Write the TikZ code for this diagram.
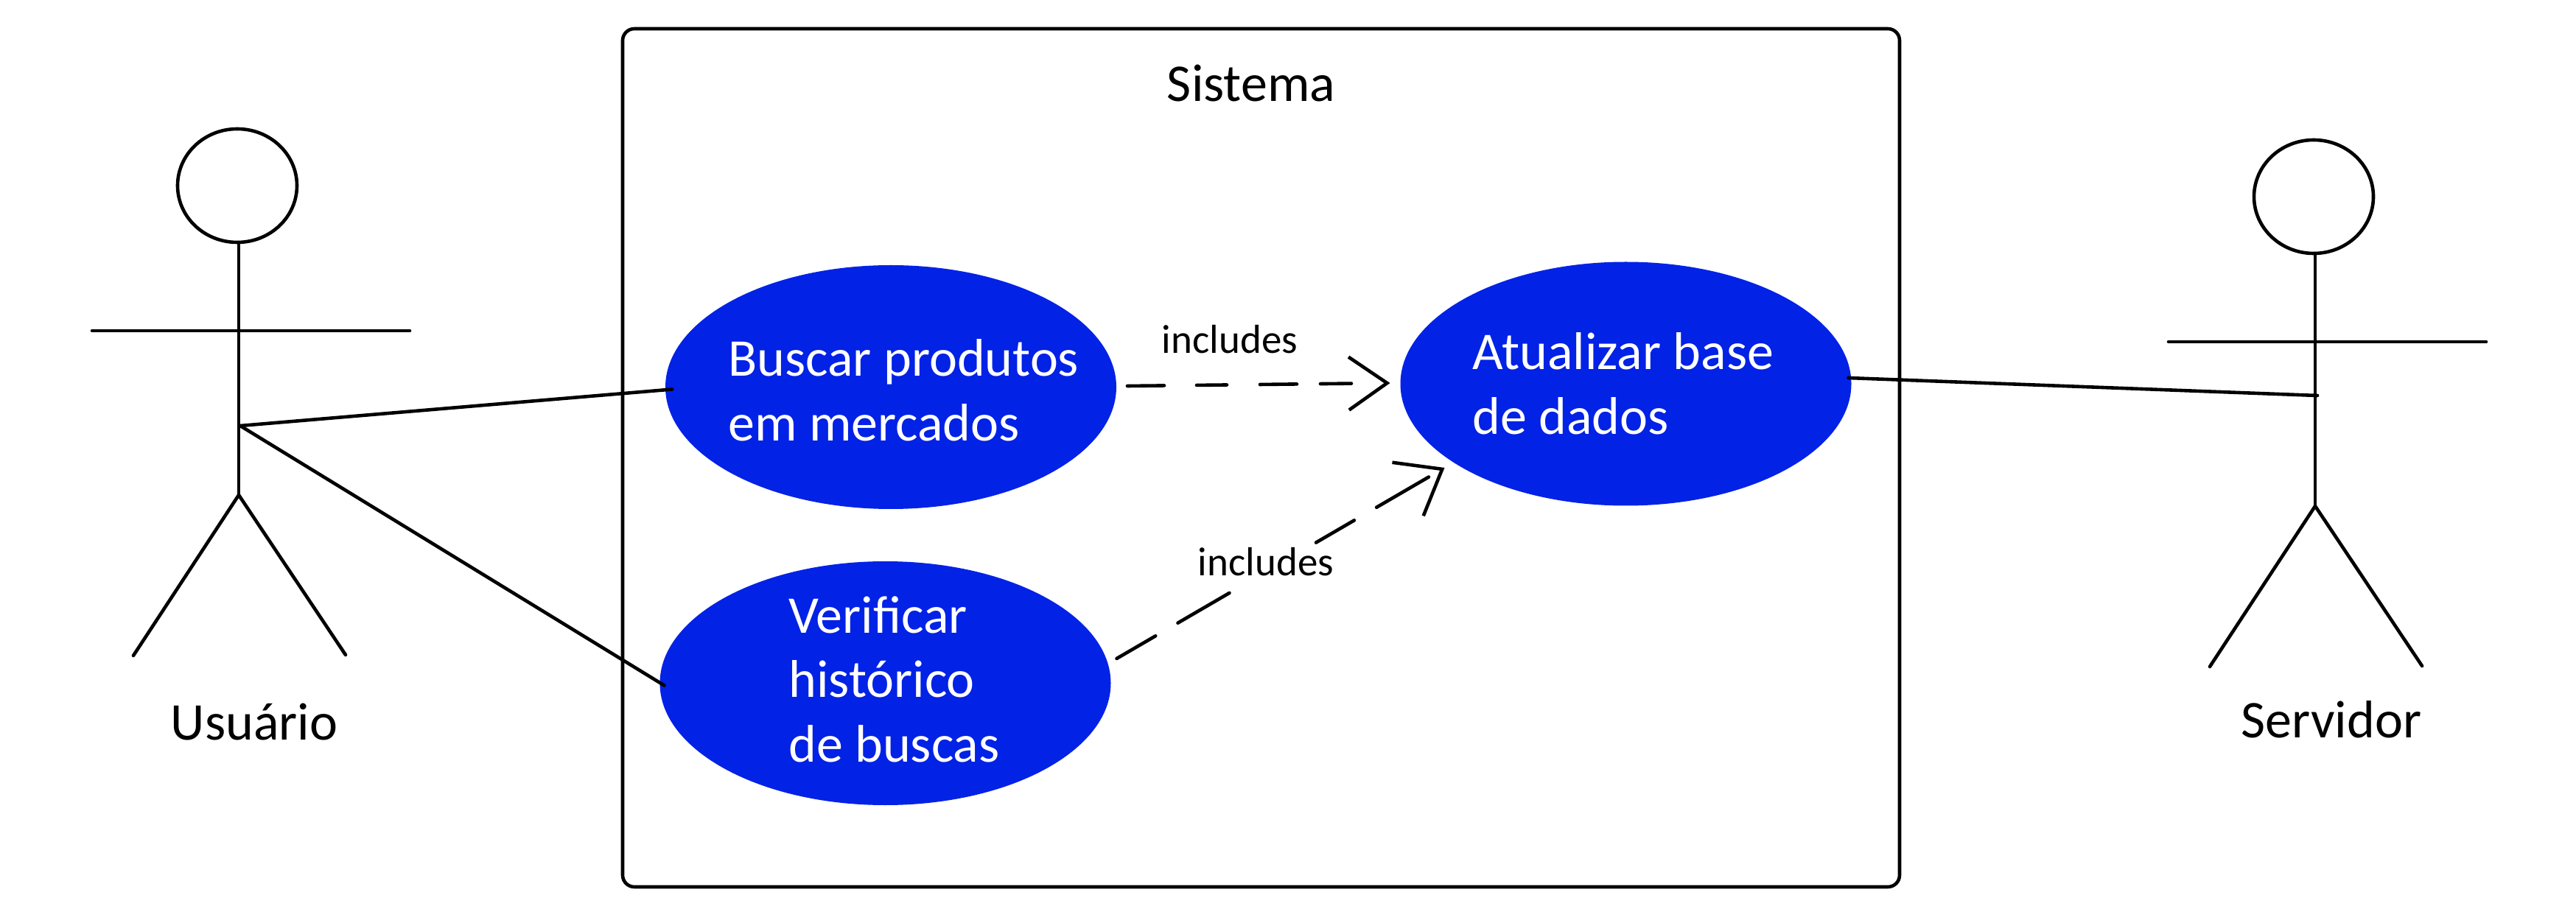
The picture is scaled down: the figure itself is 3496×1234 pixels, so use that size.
\documentclass[tikz,border=0pt]{standalone}
\usepackage{fontspec}
\setmainfont{Carlito}
\usetikzlibrary{arrows.meta}
\usetikzlibrary{shapes.geometric}
\definecolor{usecaseblue}{HTML}{0222E6}
\tikzset{
  stick line/.style={line width=2.3pt,line cap=round},
  use case/.style={ellipse,fill=usecaseblue,minimum width=306pt,minimum height=165.5pt,inner sep=0pt,outer sep=0pt},
  use text/.style={anchor=west,align=left,text=white,inner sep=0pt,font=\fontsize{36}{43.75}\selectfont},
  big label/.style={anchor=base,inner sep=0pt,font=\fontsize{36}{43.75}\selectfont},
  includes label/.style={anchor=base,inner sep=0pt,font=\fontsize{27.5}{33}\selectfont},
  actor head/.style={ellipse,draw,line width=2.3pt,minimum width=81pt,minimum height=77pt,inner sep=0pt,outer sep=0pt},
}
\begin{document}
\begin{tikzpicture}[x=0.5pt,y=-0.5pt]
\useasboundingbox (0,0) rectangle (3496,1234);
\node [draw,line width=2.3pt,rounded corners=8pt,minimum width=866.5pt,minimum height=582.5pt,inner sep=0pt,outer sep=0pt] (sistema) at (1711.5,621.5) {};
\node [big label] (sistema label) at (1698,138) {Sistema};

\node [use case] (buscar) at (1209,525.5) {};
\node [use case] (verificar) at (1201.5,927.5) {};
\node [use case] (atualizar) at (2206.5,521) {};
\node [use text] (buscar text) at (988,530) {Buscar produtos\\em mercados};
\node [use text] (verificar text) at (1070,922) {Verificar\\histórico\\de buscas};
\node [use text] (atualizar text) at (1998,521) {Atualizar base\\de dados};

% the second actor is the first one moved
\foreach \actor/\dx/\dy in {usuario/0/0,servidor/2818/15} {
  \begin{scope}[shift={(\dx,\dy)}]
  \node [actor head] (head \actor) at (322,252) {};
  \coordinate (crotch \actor) at (324,672);
  \coordinate (hand left \actor) at (125,449);
  \coordinate (hand right \actor) at (556,449);
  \coordinate (foot left \actor) at (181,890);
  \coordinate (foot right \actor) at (469,889);
  \draw [stick line] (head \actor.south -| crotch \actor) -- (crotch \actor);
  \draw [stick line] (hand left \actor) -- (hand right \actor);
  \draw [stick line] (foot left \actor) -- (crotch \actor) -- (foot right \actor);
  \end{scope}
}
\node [big label] (usuario label) at (345,1004) {Usuário};
\node [big label] (servidor label) at (3164,1001) {Servidor};

\coordinate (hip usuario) at (326,578);
\coordinate (hip servidor) at (3145,537);
\draw [stick line] (hip usuario) -- ([shift={(9,3)}]buscar.west);
\draw [stick line] (hip usuario) -- ([shift={(6,3)}]verificar.west);
\draw [stick line] ([shift={(-4,-8)}]atualizar.east) -- (hip servidor);

\draw [stick line,-{Straight Barb[length=26pt,width=36pt]},dash pattern=on 25pt off 22pt on 20.5pt off 22.5pt on 25pt off 16pt on 21pt off 30pt]
  ([shift={(15,-1.5)}]buscar.east) -- ([shift={(-14,-1)}]atualizar.west);
\draw [stick line,-{Straight Barb[length=27pt,width=42pt]},dash pattern=on 30.5pt off 17.5pt on 40.5pt off 68pt on 30pt off 17.5pt on 41pt off 30pt]
  ([shift={(8,-33.5)}]verificar.east) -- ([shift={(60,114)}]atualizar.west);
\node [includes label] (includes buscar) at (1669,480) {includes};
\node [includes label] (includes verificar) at (1718,782) {includes};
\end{tikzpicture}
\end{document}
